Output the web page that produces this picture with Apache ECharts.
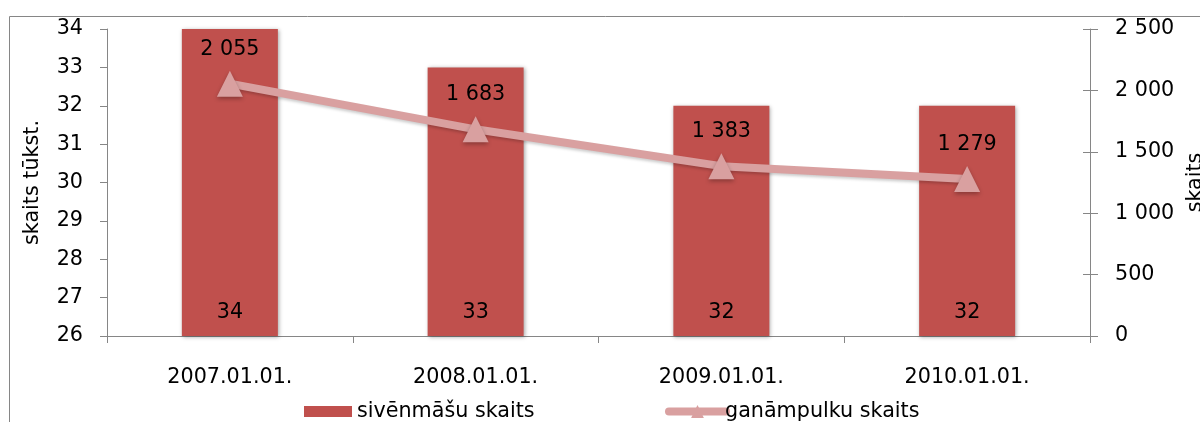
<!DOCTYPE html>
<html>
<head>
<meta charset="utf-8">
<script src="https://cdn.jsdelivr.net/npm/echarts@6/dist/echarts.min.js"></script>
<style>
  html, body { margin: 0; padding: 0; background: #fff; }
  #chart { width: 1200px; height: 422px; }
</style>
</head>
<body>
<div id="chart"></div>
<script>
// Dates of the yearly counts
const categories = ['2007.01.01.', '2008.01.01.', '2009.01.01.', '2010.01.01.'];
// Sows, thousands (left axis)
const sowCounts = [34, 33, 32, 32];
// Herds (right axis)
const herdCounts = [2055, 1683, 1383, 1279];
// Legend / series names
const seriesNames = ['sivēnmāšu skaits', 'ganāmpulku skaits'];
const leftAxisName = 'skaits tūkst.';
const rightAxisName = 'skaits';

const FONT = 'DejaVu Sans';
const FS = 20.7;
const AXIS_GRAY = '#868686';
const BAR_RED = '#C0504D';
const LINE_PINK = '#D9A0A0';

// Number formatting with a space as thousands separator
function spaced(v) {
  return String(v).replace(/\B(?=(\d{3})+(?!\d))/g, ' ');
}

const chart = echarts.init(document.getElementById('chart'), null, { renderer: 'canvas' });

const txt = { fontFamily: FONT, fontSize: FS, color: '#000' };

chart.setOption({
  animation: false,
  backgroundColor: '#fff',
  textStyle: { fontFamily: FONT, color: '#000' },
  graphic: [{
    type: 'rect',
    left: 7, top: 14,
    shape: { width: 1300, height: 500 },
    style: { fill: 'none', stroke: AXIS_GRAY, lineWidth: 1 },
    silent: true, z: -1
  }],
  grid: { left: 107, right: 110, top: 29, bottom: 86, containLabel: false, outerBoundsMode: 'none' },
  legend: [{
    left: 299, top: 396,
    itemWidth: 48, itemHeight: 11,
    textStyle: Object.assign({}, txt),
    data: [{ name: seriesNames[0], icon: 'rect' }]
  }, {
    left: 660, top: 396,
    itemWidth: 57, itemHeight: 16,
    itemGap: 0,
    textStyle: Object.assign({ padding: [0, 0, 0, -6] }, txt),
    data: [{
      name: seriesNames[1],
      lineStyle: { width: 8, cap: 'round', color: LINE_PINK },
      itemStyle: { color: LINE_PINK }
    }]
  }],
  xAxis: {
    type: 'category',
    data: categories,
    axisLine: { lineStyle: { color: AXIS_GRAY, width: 1 } },
    axisTick: { show: true, length: 7, lineStyle: { color: AXIS_GRAY } },
    axisLabel: Object.assign({ margin: 31 }, txt),
    splitLine: { show: false }
  },
  yAxis: [{
    type: 'value',
    min: 26, max: 34, interval: 1,
    name: leftAxisName,
    nameLocation: 'middle',
    nameGap: 64,
    nameRotate: 90,
    nameTextStyle: Object.assign({}, txt),
    axisLine: { show: true, lineStyle: { color: AXIS_GRAY } },
    axisTick: { show: true, length: 7, lineStyle: { color: AXIS_GRAY } },
    axisLabel: Object.assign({ margin: 24 }, txt),
    splitLine: { show: false }
  }, {
    type: 'value',
    min: 0, max: 2500, interval: 500,
    position: 'right',
    name: rightAxisName,
    nameLocation: 'middle',
    nameGap: 92,
    nameRotate: 90,
    nameTextStyle: Object.assign({}, txt),
    axisLine: { show: true, lineStyle: { color: AXIS_GRAY } },
    axisTick: { show: true, length: 8, lineStyle: { color: AXIS_GRAY } },
    axisLabel: Object.assign({ margin: 25, formatter: spaced }, txt),
    splitLine: { show: false }
  }, {
    // inner half of the right axis' crossing ticks
    type: 'value',
    min: 0, max: 2500, interval: 500,
    position: 'right',
    axisLine: { show: false },
    axisTick: { show: true, inside: true, length: 7, lineStyle: { color: AXIS_GRAY } },
    axisLabel: { show: false },
    splitLine: { show: false }
  }],
  series: [{
    name: seriesNames[0],
    type: 'bar',
    yAxisIndex: 0,
    data: sowCounts,
    barWidth: 96,
    itemStyle: {
      color: BAR_RED,
      shadowColor: 'rgba(0,0,0,0.35)',
      shadowBlur: 4,
      shadowOffsetX: 1,
      shadowOffsetY: 1
    },
    label: Object.assign({ show: true, position: 'insideBottom', distance: 13 }, txt),
    z: 2
  }, {
    name: seriesNames[1],
    type: 'line',
    yAxisIndex: 1,
    data: herdCounts,
    symbol: 'triangle',
    symbolSize: 26,
    lineStyle: { color: LINE_PINK, width: 8, shadowColor: 'rgba(0,0,0,0.2)', shadowBlur: 3, shadowOffsetY: 2 },
    itemStyle: { color: LINE_PINK, shadowColor: 'rgba(0,0,0,0.3)', shadowBlur: 4, shadowOffsetY: 2 },
    label: Object.assign({ show: true, position: 'top', distance: 11, formatter: p => spaced(p.value) }, txt),
    z: 3
  }]
});
</script>
</body>
</html>
